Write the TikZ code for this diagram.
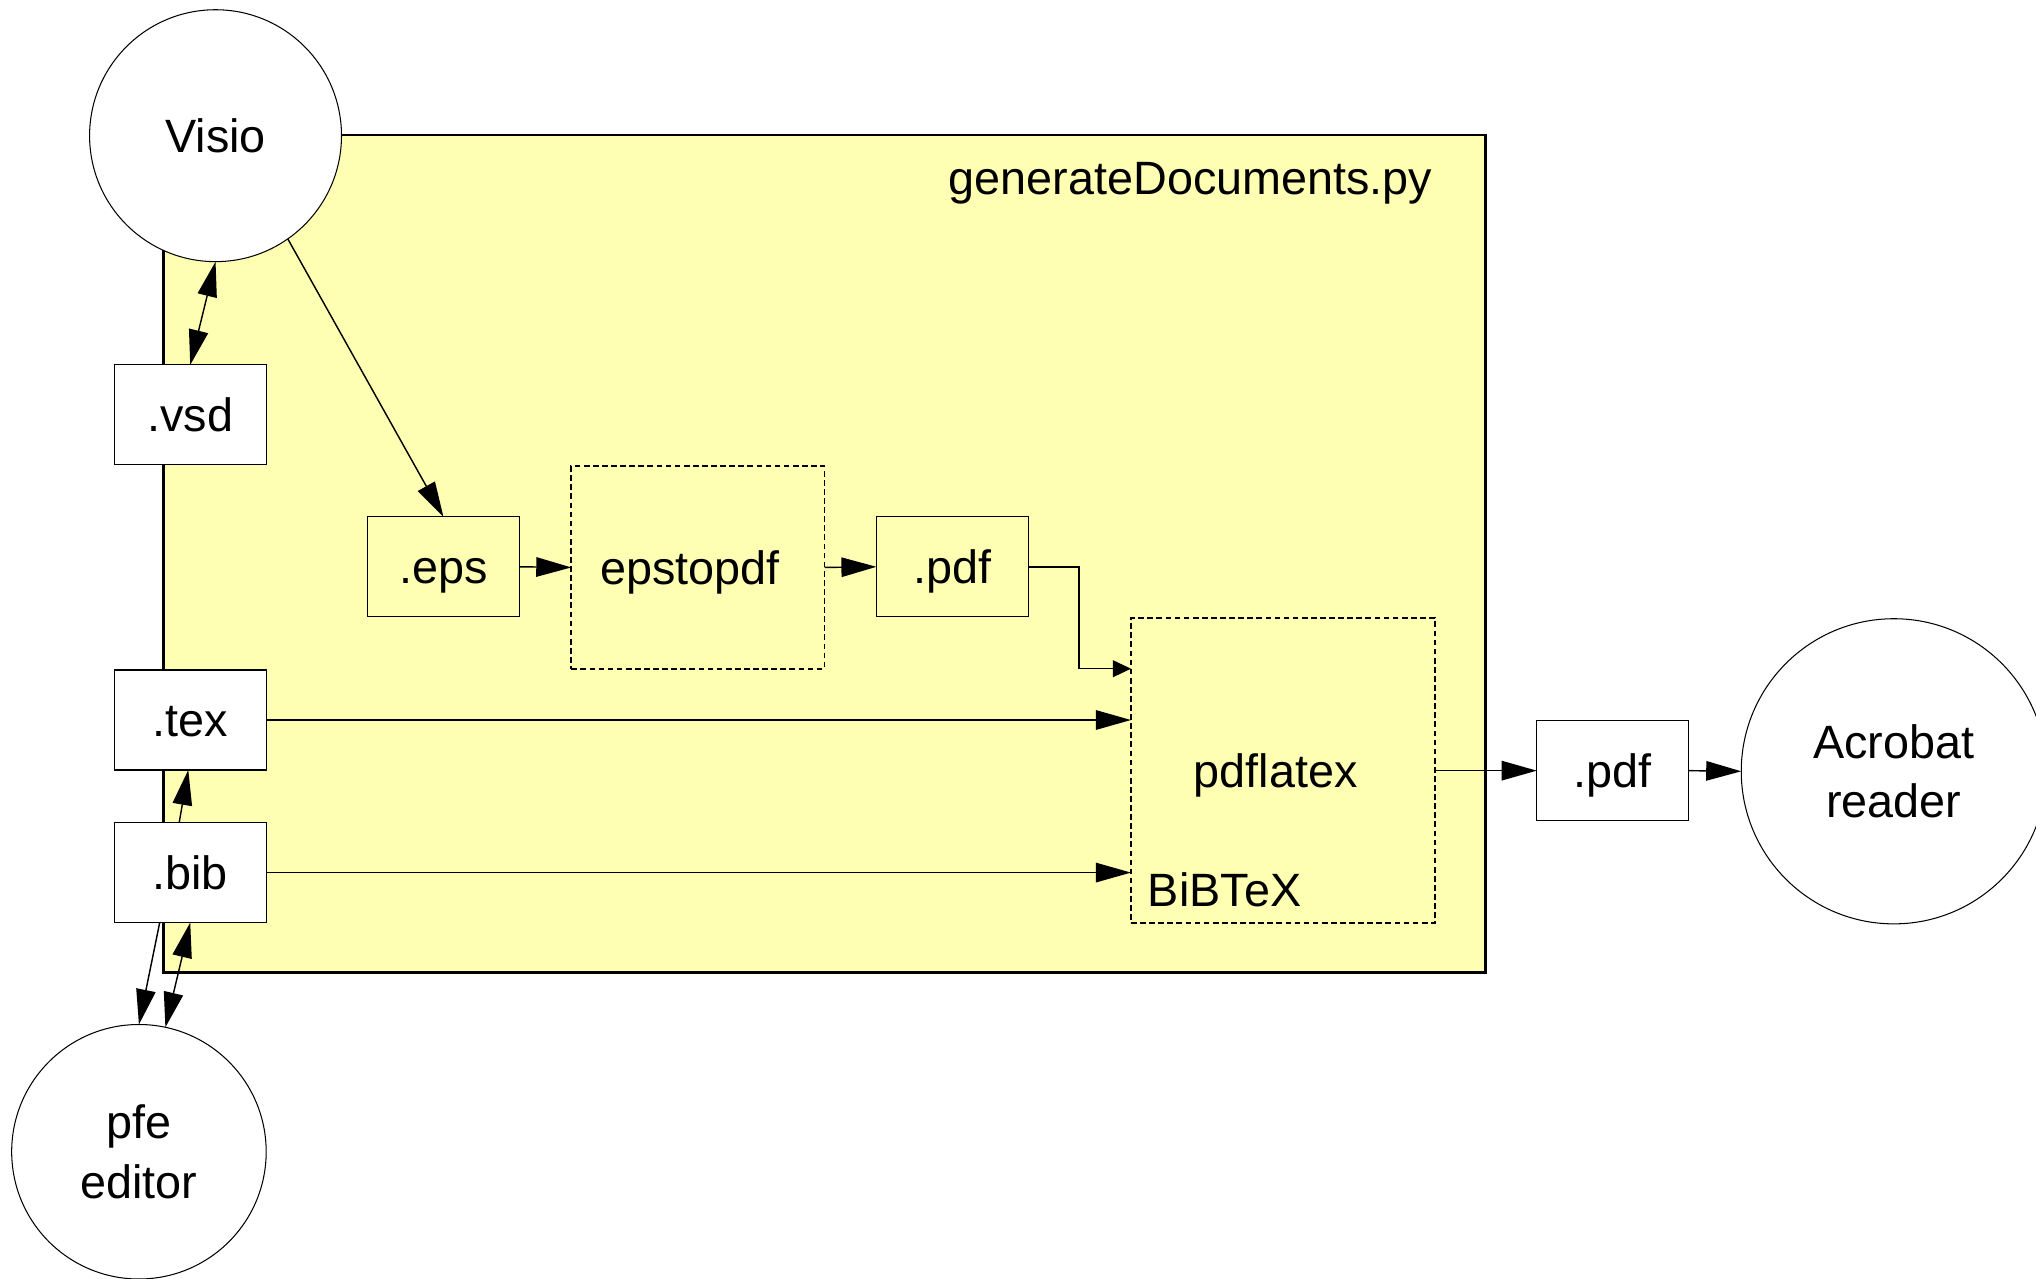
\documentclass[tikz,border=0pt]{standalone}
\usepackage{fontspec}
\setmainfont{Liberation Sans}
\usetikzlibrary{arrows.meta,calc}
\definecolor{scriptyellow}{HTML}{FFFFB3}
\begin{document}
\begin{tikzpicture}[x=0.5pt,y=-0.5pt,
  every node/.style={font=\fontsize{18}{23}\selectfont, inner sep=0pt, outer sep=0pt},
  capcentre/.style={text height=12.9pt, text depth=0pt},
  bigbox/.style={draw=black, line width=1pt, fill=scriptyellow, rectangle},
  filebox/.style={draw=black, line width=0.45pt, rectangle, capcentre, minimum width=58.5pt, minimum height=38.5pt},
  whitebox/.style={filebox, fill=white},
  procbox/.style={draw=black, line width=0.65pt, rectangle, dash pattern=on 2.2pt off 1.3pt},
  app/.style={draw=black, line width=0.4pt, circle, fill=white, align=center},
  conn/.style={line width=0.55pt, -{Triangle[length=13.5pt,width=7.5pt]}},
  dconn/.style={line width=0.55pt, {Triangle[length=13.5pt,width=7.5pt]}-{Triangle[length=13.5pt,width=7.5pt]}},
  sconn/.style={line width=0.55pt, -{Triangle[length=7pt,width=6.5pt]}}
]
\useasboundingbox (0,0) rectangle (1568,985);
\fill[white] (0,0) rectangle (1568,985);

% script frame
\node[bigbox, minimum width=509pt, minimum height=322.5pt] (script) at (635,426.5) {};
\node[anchor=base east] (title) at (1103,150) {generateDocuments.py};

% applications
\node[app, minimum size=97pt] (visio) at (166,104.5) {Visio};
\node[app, minimum size=98pt] (pfe) at (107,887) {pfe\\editor};
\node[app, minimum size=117.5pt] (acrobat) at (1458.5,594) {Acrobat\\reader};

% files
\node[whitebox] (vsd) at (146.5,319.5) {.vsd};
\node[whitebox] (tex) at (146.5,554.5) {.tex};
\node[whitebox] (bib) at (146.5,672) {.bib};
\node[filebox] (eps) at (341.5,436.5) {.eps};
\node[filebox] (pdfa) at (733.5,436.5) {.pdf};
\node[whitebox] (pdfb) at (1242,593.5) {.pdf};

% processes
\node[procbox, minimum width=97.5pt, minimum height=78pt] (epstopdf) at (537.5,437) {};
\node[capcentre] (epstopdftext) at (531.5,437) {epstopdf};
\node[procbox, minimum width=117pt, minimum height=117.5pt] (pdflatex) at (988,593.5) {};
\node[capcentre] (pdflatextext) at (982.5,593.5) {pdflatex};
\node[anchor=base west] (bibtex) at (884,698) {BiBTeX};

% connectors
\draw[dconn] (vsd.north) -- (visio.south);
\draw[conn] (visio.-55) -- (eps.north);
\draw[conn] (eps.east) -- (epstopdf.west);
\draw[conn] (epstopdf.east) -- (pdfa.west);
\coordinate (pdfin) at (871,515);
\draw[sconn] (pdfa.east) -- (831,436.5) -- (831,515) -- (pdfin);
\draw[conn] (tex.east) -- (pdflatex.west |- tex.east);
\draw[conn] (bib.east) -- (pdflatex.west |- bib.east);
\draw[conn] (pdflatex.east) -- (pdfb.west);
\draw[conn] (pdfb.east) -- (acrobat.west);
\draw[conn] ([xshift=25pt]bib.north west) -- ([xshift=28.5pt]tex.south west);
\draw[conn] ([xshift=17.5pt]bib.south west) -- (pfe.north);
\draw[dconn] (bib.south) -- (pfe.78);
\end{tikzpicture}
\end{document}
